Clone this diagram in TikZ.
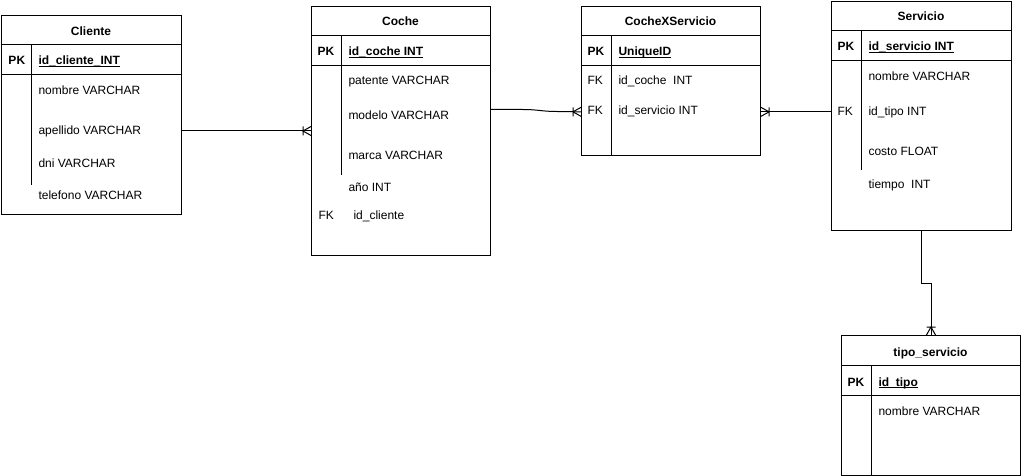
\documentclass[tikz,border=0pt]{standalone}
\usepackage{fontspec}
\setmainfont{Liberation Sans}
\newcommand{\keyfield}[1]{\underline{\smash{#1}}}

\begin{document}
\begin{tikzpicture}[x=1pt,y=-1pt,line width=1pt,
  every node/.style={font=\fontsize{12}{14}\selectfont,inner sep=0pt},
  tbl/.style={draw,anchor=north west,minimum width=180pt},
  ttl/.style={anchor=base,font=\fontsize{12}{14}\selectfont\bfseries},
  fld/.style={anchor=base west},
  pk/.style={anchor=base west,font=\fontsize{12}{14}\selectfont\bfseries},
  pics/crow/.style={code={\draw (0,-4.5) -- (8,0) -- (0,4.5) (8,-4.5) -- (8,4.5);}}]
  \useasboundingbox (0,0) rectangle (1021,476);
  % Cliente
  \node[tbl,minimum height=199pt] (cliente) at (1,15) {};
  \draw (1,45) -- (181,45) (1,75) -- (181,75) (31,45) -- (31,185);
  \node[ttl] (cli-t) at (91,36) {Cliente};
  \node[pk] (cli-pk) at (8,65) {PK};
  \node[pk] (cli-id) at (38,65) {\keyfield{id\_cliente\_INT}};
  \node[fld] (cli-nom) at (38,95) {nombre VARCHAR};
  \node[fld] (cli-ape) at (38,135) {apellido VARCHAR};
  \node[fld] (cli-dni) at (38,168) {dni VARCHAR};
  \node[fld] (cli-tel) at (38,200) {telefono VARCHAR};
  % Coche
  \node[tbl,minimum width=179pt,minimum height=249pt] (coche) at (311,6) {};
  \draw (311,36) -- (490,36) (311,66) -- (490,66) (341,36) -- (341,175);
  \node[ttl] (coc-t) at (400.5,26) {Coche};
  \node[pk] (coc-pk) at (317,56) {PK};
  \node[pk] (coc-id) at (348,56) {\keyfield{id\_coche INT}};
  \node[fld] (coc-pat) at (348,85) {patente VARCHAR};
  \node[fld] (coc-mod) at (348,120) {modelo VARCHAR};
  \node[fld] (coc-mar) at (348,160) {marca VARCHAR};
  \node[fld] (coc-ano) at (348,192) {año INT};
  \node[fld] (coc-fk) at (318,220) {FK};
  \node[fld] (coc-cli) at (353,220) {id\_cliente};
  % CocheXServicio
  \node[tbl,minimum width=179pt,minimum height=149pt] (cxs) at (581,6) {};
  \draw (581,36) -- (760,36) (581,66) -- (760,66) (611,36) -- (611,155);
  \node[ttl] (cxs-t) at (670.5,26) {CocheXServicio};
  \node[pk] (cxs-pk) at (587,56) {PK};
  \node[pk] (cxs-id) at (618,56) {\keyfield{UniqueID}};
  \node[fld] (cxs-fk1) at (587,85) {FK};
  \node[fld] (cxs-coc) at (618,85) {id\_coche\ \ INT};
  \node[fld] (cxs-fk2) at (587,115) {FK};
  \node[fld] (cxs-srv) at (618,115) {id\_servicio INT};
  % Servicio
  \node[tbl,minimum height=229pt] (servicio) at (831,1) {};
  \draw (831,31) -- (1011,31) (831,61) -- (1011,61) (861,31) -- (861,170);
  \node[ttl] (srv-t) at (921,21) {Servicio};
  \node[pk] (srv-pk) at (837,51) {PK};
  \node[pk] (srv-id) at (868,51) {\keyfield{id\_servicio INT}};
  \node[fld] (srv-nom) at (868,80.5) {nombre VARCHAR};
  \node[fld] (srv-fk) at (837,115.5) {FK};
  \node[fld] (srv-tip) at (868,115.5) {id\_tipo INT};
  \node[fld] (srv-cos) at (868,155.5) {costo FLOAT};
  \node[fld] (srv-tie) at (868,189) {tiempo\ \ INT};
  % tipo_servicio
  \node[tbl,minimum width=179pt,minimum height=140pt] (tipo) at (841,335) {};
  \draw (841,365) -- (1020,365) (841,395) -- (1020,395) (871,365) -- (871,475);
  \node[ttl] (tip-t) at (930.5,356) {tipo\_servicio};
  \node[pk] (tip-pk) at (847,386) {PK};
  \node[pk] (tip-id) at (878,386) {\keyfield{id\_tipo}};
  \node[fld] (tip-nom) at (878,415.5) {nombre VARCHAR};
  % Relations
  \draw (coche.west -| cliente.east) -- (coche.west) pic[rotate=180]{crow};
  \draw ([yshift=21.5pt]coche.east) -- ++(32,0) .. controls +(15,0) and +(-15,0) .. ++(34,2)
    -- (cxs.west |- cxs-srv) pic[rotate=180]{crow};
  \draw (servicio.west |- cxs-srv) -- (cxs.east |- cxs-srv) pic{crow};
  \draw (servicio.south) -- ++(0,52) -| (tipo.north) pic[rotate=90]{crow};
\end{tikzpicture}
\end{document}
